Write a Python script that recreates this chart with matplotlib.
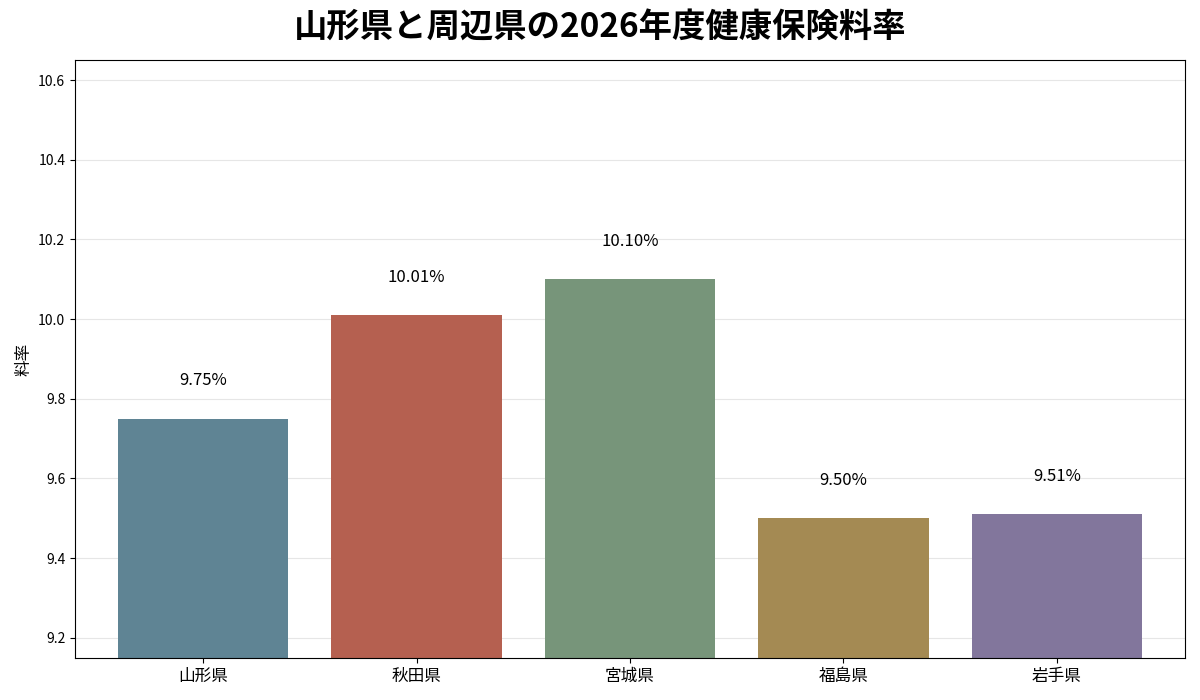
import matplotlib
matplotlib.use("Agg")
import matplotlib.pyplot as plt

plt.rcParams['font.family'] = ['Noto Sans CJK JP', 'DejaVu Sans']

prefectures = ["山形県", "秋田県", "宮城県", "福島県", "岩手県"]
rates = [9.75, 10.01, 10.10, 9.50, 9.51]
colors = ["#5F8494", "#B56050", "#77957A", "#A48A53", "#82769C"]

fig = plt.figure(figsize=(12, 7), dpi=100)
ax = fig.add_axes([0.0625, 0.06, 0.925, 0.854])
x = range(len(prefectures))
ax.bar(x, rates, color=colors, width=0.8, zorder=2)
for i, v in zip(x, rates):
    ax.text(i, v + 0.095, f"{v:.2f}%", ha='center', va='center', fontsize=12)
ax.set_xticks(list(x))
ax.set_xticklabels(prefectures, fontsize=12)
ax.set_yticks([9.2, 9.4, 9.6, 9.8, 10.0, 10.2, 10.4, 10.6])
ax.tick_params(axis='y', labelsize=10)
ax.set_ylim(9.149, 10.65)
ax.set_xlim(-0.6, 4.6)
ax.grid(axis='y', color='#e6e6e6', linewidth=0.8, zorder=0)
ax.set_ylabel("料率", fontsize=12)
fig.suptitle("山形県と周辺県の2026年度健康保険料率", fontsize=24, fontweight='bold', y=0.985)
fig.savefig("out.png")
